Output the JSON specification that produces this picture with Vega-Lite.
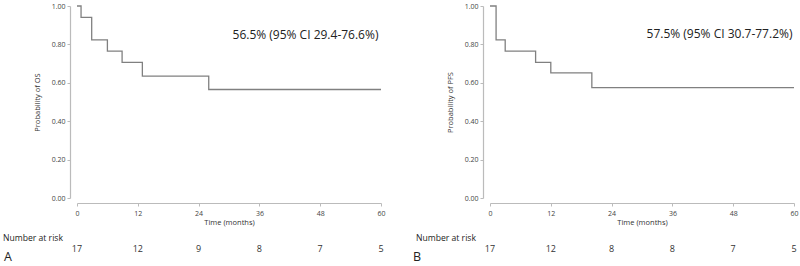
{
  "$schema": "https://vega.github.io/schema/vega-lite/v6.json",
  "background": "white",
  "padding": {"left": 3, "top": 2, "right": 4, "bottom": 0},
  "config": {
    "view": {"stroke": null},
    "font": "Open Sans",
    "axis": {
      "domainColor": "#bbbbbb", "domainWidth": 1.2, "tickColor": "#bbbbbb", "tickSize": 3,
      "labelFont": "Open Sans", "labelFontSize": 7, "labelColor": "#444444",
      "titleFont": "Open Sans", "titleFontSize": 7.5, "titleFontWeight": "normal", "titleColor": "#333333",
      "grid": false
    }
  },
  "hconcat": [
    {
      "width": 304, "height": 192,
      "data": {"values": [
        {"t": 0, "s": 1}, {"t": 0.8, "s": 0.941}, {"t": 2.9, "s": 0.824}, {"t": 6, "s": 0.765},
        {"t": 8.9, "s": 0.706}, {"t": 12.9, "s": 0.635}, {"t": 26, "s": 0.565}, {"t": 60, "s": 0.565}
      ]},
      "encoding": {
        "x": {"type": "quantitative", "scale": {"domain": [0, 60], "nice": false},
          "axis": {"values": [0, 12, 24, 36, 48, 60], "title": "Time (months)", "offset": 5, "labelPadding": 3, "titlePadding": 2, "labelFlush": false}},
        "y": {"type": "quantitative", "scale": {"domain": [0, 1], "nice": false},
          "axis": {"values": [0, 0.2, 0.4, 0.6, 0.8, 1], "format": ".2f", "title": "Probability of OS", "offset": 7, "labelPadding": 2, "titlePadding": 10, "labelOverlap": false, "labelFlush": false, "labelBound": false}}
      },
      "layer": [
        {
          "mark": {"type": "line", "interpolate": "step-after", "color": "#808080", "strokeWidth": 1.3},
          "encoding": {"x": {"field": "t"}, "y": {"field": "s"}}
        },
        {
          "data": {"values": [{"txt": "56.5% (95% CI 29.4-76.6%)"}]},
          "mark": {"type": "text", "align": "left", "baseline": "middle", "fontSize": 12, "color": "#222222", "font": "Open Sans"},
          "encoding": {"x": {"datum": 30.7}, "y": {"datum": 0.849}, "text": {"field": "txt"}}
        },
        {
          "data": {"values": [{"txt": "Number at risk"}]},
          "mark": {"type": "text", "align": "left", "baseline": "middle", "fontSize": 8.6, "color": "#222222"},
          "encoding": {"x": {"datum": -14.6}, "y": {"datum": -0.208}, "text": {"field": "txt"}}
        },
        {
          "data": {"values": [{"txt": "A"}]},
          "mark": {"type": "text", "align": "left", "baseline": "alphabetic", "fontSize": 12.5, "color": "#222222"},
          "encoding": {"x": {"datum": -14.4}, "y": {"datum": -0.328}, "text": {"field": "txt"}}
        },
        {
          "data": {"values": [{"t": 0, "n": 17}, {"t": 12, "n": 12}, {"t": 24, "n": 9}, {"t": 36, "n": 8}, {"t": 48, "n": 7}, {"t": 60, "n": 5}]},
          "mark": {"type": "text", "align": "center", "baseline": "middle", "fontSize": 9, "color": "#333333"},
          "encoding": {"x": {"field": "t"}, "y": {"datum": -0.266}, "text": {"field": "n"}}
        }
      ]
    },
    {
      "width": 304, "height": 192,
      "data": {"values": [
        {"t": 0, "s": 1}, {"t": 1.2, "s": 0.824}, {"t": 3, "s": 0.765}, {"t": 9, "s": 0.706},
        {"t": 12, "s": 0.652}, {"t": 20.1, "s": 0.575}, {"t": 60, "s": 0.575}
      ]},
      "encoding": {
        "x": {"type": "quantitative", "scale": {"domain": [0, 60], "nice": false},
          "axis": {"values": [0, 12, 24, 36, 48, 60], "title": "Time (months)", "offset": 5, "labelPadding": 3, "titlePadding": 2, "labelFlush": false}},
        "y": {"type": "quantitative", "scale": {"domain": [0, 1], "nice": false},
          "axis": {"values": [0, 0.2, 0.4, 0.6, 0.8, 1], "format": ".2f", "title": "Probability of PFS", "offset": 7, "labelPadding": 2, "titlePadding": 10, "labelOverlap": false, "labelFlush": false, "labelBound": false}}
      },
      "layer": [
        {
          "mark": {"type": "line", "interpolate": "step-after", "color": "#808080", "strokeWidth": 1.3},
          "encoding": {"x": {"field": "t"}, "y": {"field": "s"}}
        },
        {
          "data": {"values": [{"txt": "57.5% (95% CI 30.7-77.2%)"}]},
          "mark": {"type": "text", "align": "left", "baseline": "middle", "fontSize": 12, "color": "#222222", "font": "Open Sans"},
          "encoding": {"x": {"datum": 30.9}, "y": {"datum": 0.854}, "text": {"field": "txt"}}
        },
        {
          "data": {"values": [{"txt": "Number at risk"}]},
          "mark": {"type": "text", "align": "left", "baseline": "middle", "fontSize": 8.6, "color": "#222222"},
          "encoding": {"x": {"datum": -14.6}, "y": {"datum": -0.208}, "text": {"field": "txt"}}
        },
        {
          "data": {"values": [{"txt": "B"}]},
          "mark": {"type": "text", "align": "left", "baseline": "alphabetic", "fontSize": 12.5, "color": "#222222"},
          "encoding": {"x": {"datum": -15.2}, "y": {"datum": -0.328}, "text": {"field": "txt"}}
        },
        {
          "data": {"values": [{"t": 0, "n": 17}, {"t": 12, "n": 12}, {"t": 24, "n": 8}, {"t": 36, "n": 8}, {"t": 48, "n": 7}, {"t": 60, "n": 5}]},
          "mark": {"type": "text", "align": "center", "baseline": "middle", "fontSize": 9, "color": "#333333"},
          "encoding": {"x": {"field": "t"}, "y": {"datum": -0.266}, "text": {"field": "n"}}
        }
      ]
    }
  ],
  "spacing": 109,
  "bounds": "flush"
}
